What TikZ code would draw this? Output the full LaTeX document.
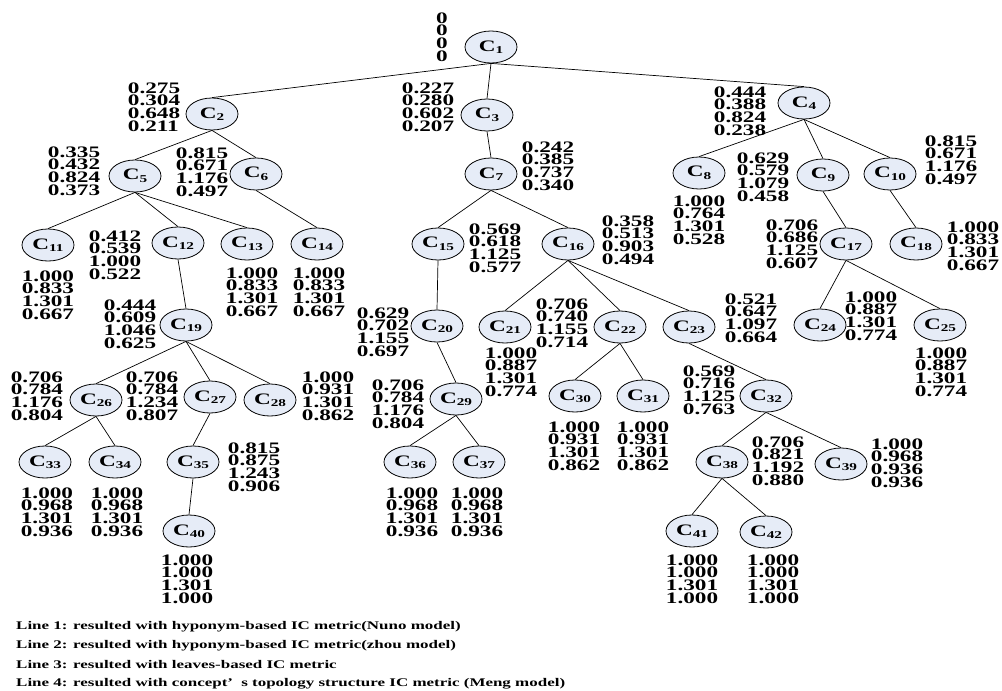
\documentclass[tikz,border=0pt]{standalone}
\usepackage{fontspec}
\setmainfont{Liberation Serif}[FakeStretch=1.45,BoldFeatures={FakeStretch=1.45}]
\usetikzlibrary{shapes.geometric}
\definecolor{nodefill}{RGB}{230,236,247}
\newcommand{\cn}[1]{C\raisebox{-2.5pt}{\fontsize{10.5}{10}\selectfont #1}}
\newcommand{\valfont}{\bfseries\fontsize{16}{12.8}\selectfont}
\newcommand{\legfont}{\bfseries\fontsize{11.7}{14}\selectfont}
\tikzset{
  cnode/.style={ellipse, draw, fill=nodefill, minimum width=52pt, minimum height=32pt, inner sep=0pt, line width=0.8pt, font=\bfseries\fontsize{16}{16}\selectfont},
  vals/.style={align=left, font=\valfont, inner sep=0pt},
  leg/.style={anchor=west, font=\legfont, inner sep=0pt},
  edge/.style={line width=0.7pt},
}
\begin{document}
\begin{tikzpicture}[x=1pt,y=-1pt]
\useasboundingbox (0,0) rectangle (1002,691);
% concept nodes
\node[cnode] (c1) at (491,47) {\cn{1}};
\node[cnode] (c2) at (212,114) {\cn{2}};
\node[cnode] (c3) at (487,115) {\cn{3}};
\node[cnode] (c4) at (804,103) {\cn{4}};
\node[cnode] (c5) at (135,176) {\cn{5}};
\node[cnode] (c6) at (256,174) {\cn{6}};
\node[cnode] (c7) at (491,174) {\cn{7}};
\node[cnode] (c8) at (699,173) {\cn{8}};
\node[cnode] (c9) at (823,175) {\cn{9}};
\node[cnode] (c10) at (890,174) {\cn{10}};
\node[cnode] (c11) at (48,245) {\cn{11}};
\node[cnode] (c12) at (178,243) {\cn{12}};
\node[cnode] (c13) at (247,244) {\cn{13}};
\node[cnode] (c14) at (317,244) {\cn{14}};
\node[cnode] (c15) at (438,244) {\cn{15}};
\node[cnode] (c16) at (568,244) {\cn{16}};
\node[cnode] (c17) at (846,244) {\cn{17}};
\node[cnode] (c18) at (916,244) {\cn{18}};
\node[cnode] (c19) at (186,325) {\cn{19}};
\node[cnode] (c20) at (437,326) {\cn{20}};
\node[cnode] (c21) at (505,327) {\cn{21}};
\node[cnode] (c22) at (620,327) {\cn{22}};
\node[cnode] (c23) at (689,327) {\cn{23}};
\node[cnode] (c24) at (820,325) {\cn{24}};
\node[cnode] (c25) at (940,325) {\cn{25}};
\node[cnode] (c26) at (96,400) {\cn{26}};
\node[cnode] (c27) at (210,397) {\cn{27}};
\node[cnode] (c28) at (270,400) {\cn{28}};
\node[cnode] (c29) at (456,399) {\cn{29}};
\node[cnode] (c30) at (575,396) {\cn{30}};
\node[cnode] (c31) at (643,396) {\cn{31}};
\node[cnode] (c32) at (766,396) {\cn{32}};
\node[cnode] (c33) at (45,462) {\cn{33}};
\node[cnode] (c34) at (115,462) {\cn{34}};
\node[cnode] (c35) at (193,462) {\cn{35}};
\node[cnode] (c36) at (410,462) {\cn{36}};
\node[cnode] (c37) at (479,462) {\cn{37}};
\node[cnode] (c38) at (722,462) {\cn{38}};
\node[cnode] (c39) at (841,464) {\cn{39}};
\node[cnode] (c40) at (189,531) {\cn{40}};
\node[cnode] (c41) at (692,531) {\cn{41}};
\node[cnode] (c42) at (766,532) {\cn{42}};
% connectors
\foreach \p/\c in {1/2,1/3,1/4,2/5,2/6,3/7,4/8,4/9,4/10,5/11,5/12,5/13,6/14,7/15,7/16,9/17,10/18,12/19,15/20,16/21,16/22,16/23,17/24,17/25,19/26,19/27,19/28,20/29,22/30,22/31,23/32,26/33,26/34,27/35,29/36,29/37,32/38,32/39,35/40,38/41,38/42}
  \draw[edge] (c\p.south) -- (c\c.north);
% value blocks
\node[vals] (v1) at (442,37) {0\\0\\0\\0};
\node[vals] (v2) at (154,107) {0.275\\0.304\\0.648\\0.211};
\node[vals] (v3) at (428,107) {0.227\\0.280\\0.602\\0.207};
\node[vals] (v4) at (740,111) {0.444\\0.388\\0.824\\0.238};
\node[vals] (v5) at (74,171) {0.335\\0.432\\0.824\\0.373};
\node[vals] (v6) at (202,172) {0.815\\0.671\\1.176\\0.497};
\node[vals] (v7) at (548,166) {0.242\\0.385\\0.737\\0.340};
\node[vals] (v8) at (699,220) {1.000\\0.764\\1.301\\0.528};
\node[vals] (v9) at (763,177) {0.629\\0.579\\1.079\\0.458};
\node[vals] (v10) at (951,160) {0.815\\0.671\\1.176\\0.497};
\node[vals] (v11) at (48,295) {1.000\\0.833\\1.301\\0.667};
\node[vals] (v12) at (115,255) {0.412\\0.539\\1.000\\0.522};
\node[vals] (v13) at (252,292) {1.000\\0.833\\1.301\\0.667};
\node[vals] (v14) at (319,292) {1.000\\0.833\\1.301\\0.667};
\node[vals] (v15) at (495,248) {0.569\\0.618\\1.125\\0.577};
\node[vals] (v16) at (628,240) {0.358\\0.513\\0.903\\0.494};
\node[vals] (v17) at (792,244) {0.706\\0.686\\1.125\\0.607};
\node[vals] (v18) at (973,246) {1.000\\0.833\\1.301\\0.667};
\node[vals] (v19) at (130,324) {0.444\\0.609\\1.046\\0.625};
\node[vals] (v20) at (383,332) {0.629\\0.702\\1.155\\0.697};
\node[vals] (v21) at (511,372) {1.000\\0.887\\1.301\\0.774};
\node[vals] (v22) at (562,323) {0.706\\0.740\\1.155\\0.714};
\node[vals] (v23) at (751,318) {0.521\\0.647\\1.097\\0.664};
\node[vals] (v24) at (871,316) {1.000\\0.887\\1.301\\0.774};
\node[vals] (v25) at (941,372) {1.000\\0.887\\1.301\\0.774};
\node[vals] (v26) at (37,396) {0.706\\0.784\\1.176\\0.804};
\node[vals] (v27) at (152,396) {0.706\\0.784\\1.234\\0.807};
\node[vals] (v28) at (328,396) {1.000\\0.931\\1.301\\0.862};
\node[vals] (v29) at (398,404) {0.706\\0.784\\1.176\\0.804};
\node[vals] (v30) at (574,446) {1.000\\0.931\\1.301\\0.862};
\node[vals] (v31) at (643,446) {1.000\\0.931\\1.301\\0.862};
\node[vals] (v32) at (709,390) {0.569\\0.716\\1.125\\0.763};
\node[vals] (v33) at (47,512) {1.000\\0.968\\1.301\\0.936};
\node[vals] (v34) at (117,512) {1.000\\0.968\\1.301\\0.936};
\node[vals] (v35) at (254,467) {0.815\\0.875\\1.243\\0.906};
\node[vals] (v36) at (412,512) {1.000\\0.968\\1.301\\0.936};
\node[vals] (v37) at (477,512) {1.000\\0.968\\1.301\\0.936};
\node[vals] (v38) at (778,461) {0.706\\0.821\\1.192\\0.880};
\node[vals] (v39) at (897,463) {1.000\\0.968\\0.936\\0.936};
\node[vals] (v40) at (187,579) {1.000\\1.000\\1.301\\1.000};
\node[vals] (v41) at (692,579) {1.000\\1.000\\1.301\\1.000};
\node[vals] (v42) at (773,579) {1.000\\1.000\\1.301\\1.000};
% legend
\node[leg] (l1) at (16,627) {Line 1: resulted with hyponym-based IC metric(Nuno model)};
\node[leg] (l2) at (16,646) {Line 2: resulted with hyponym-based IC metric(zhou model)};
\node[leg] (l3) at (16,665) {Line 3: resulted with leaves-based IC metric};
\node[leg] (l4) at (16,684) {Line 4: resulted with concept’\hspace{0.7em}s topology structure IC metric (Meng model)};
\end{tikzpicture}
\end{document}
